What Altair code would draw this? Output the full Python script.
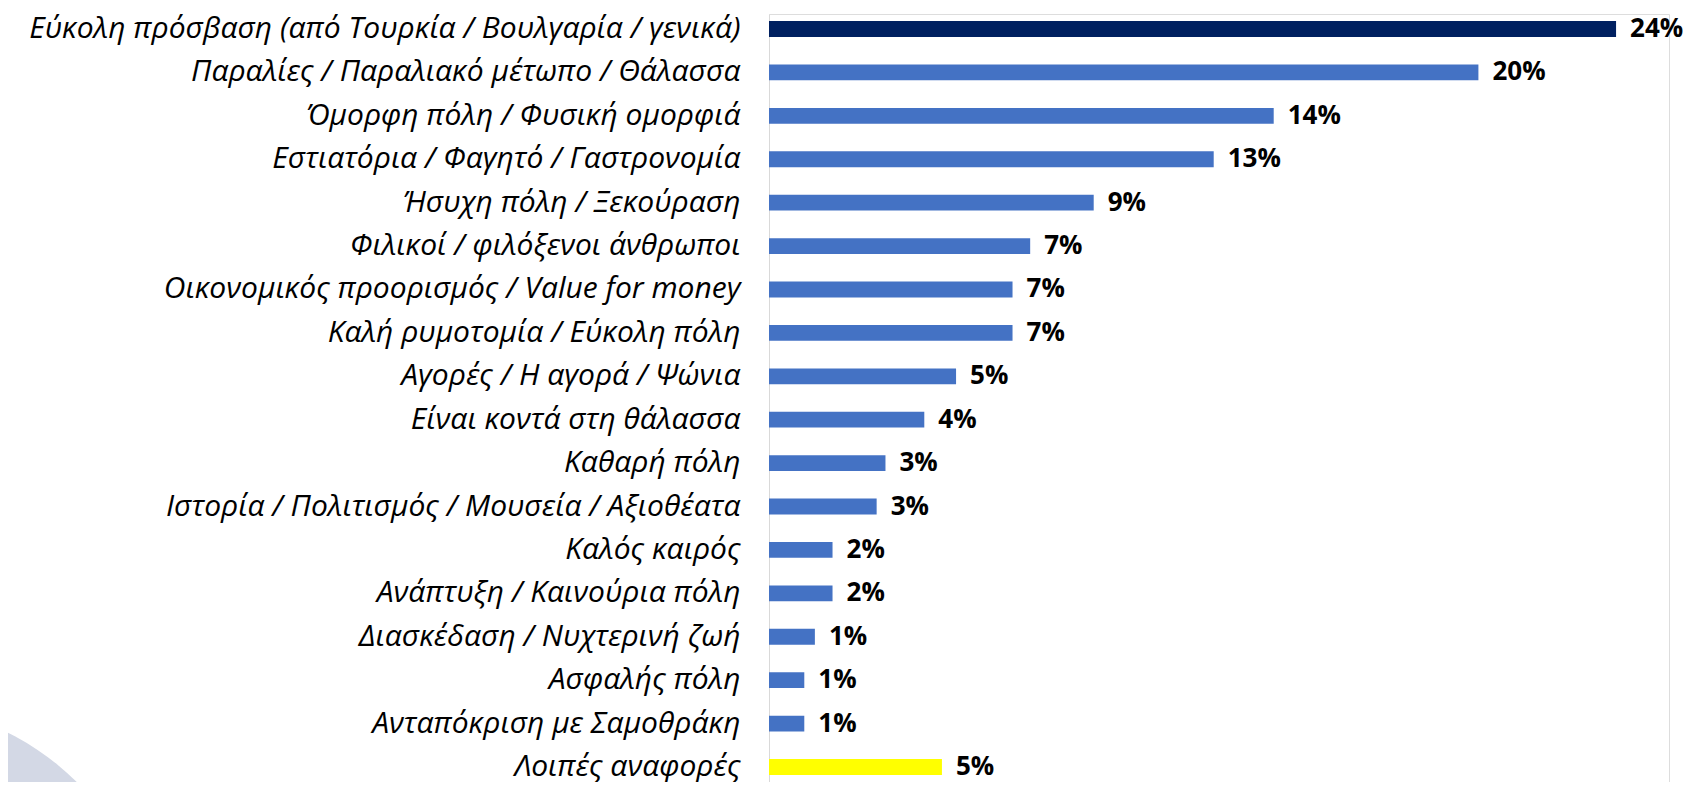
import altair as alt
import pandas as pd

categories = [
    "Εύκολη πρόσβαση (από Τουρκία / Βουλγαρία / γενικά)",
    "Παραλίες / Παραλιακό μέτωπο / Θάλασσα",
    "Όμορφη πόλη / Φυσική ομορφιά",
    "Εστιατόρια / Φαγητό / Γαστρονομία",
    "Ήσυχη  πόλη / Ξεκούραση",
    "Φιλικοί / φιλόξενοι άνθρωποι",
    "Οικονομικός προορισμός / Value for money",
    "Καλή ρυμοτομία / Εύκολη πόλη",
    "Αγορές / Η αγορά / Ψώνια",
    "Είναι κοντά στη θάλασσα",
    "Καθαρή πόλη",
    "Ιστορία / Πολιτισμός / Μουσεία / Αξιοθέατα",
    "Καλός καιρός",
    "Ανάπτυξη / Καινούρια πόλη",
    "Διασκέδαση / Νυχτερινή ζωή",
    "Ασφαλής πόλη",
    "Ανταπόκριση με Σαμοθράκη",
    "Λοιπές αναφορές",
]
values = [24.0, 20.1, 14.3, 12.6, 9.2, 7.4, 6.9, 6.9, 5.3, 4.4, 3.3, 3.05,
          1.8, 1.8, 1.3, 1.0, 1.0, 4.9]
colors = ["#002060"] + ["#4472C4"] * 16 + ["#FFFF00"]

df = pd.DataFrame({
    "cat": categories,
    "val": values,
    "color": colors,
    "label": [f"{int(v + 0.5)}%" for v in values],
})

y_enc = alt.Y(
    "cat:N", sort=categories, title=None,
    scale=alt.Scale(paddingInner=0.636, paddingOuter=0.164),
    axis=alt.Axis(labelFont="Open Sans", labelFontStyle="italic", labelFontSize=30,
                  labelColor="#000000", labelPadding=29, labelLimit=0,
                  ticks=False, domainColor="#d9d9d9", domainWidth=1),
)
x_enc = alt.X("val:Q", title=None, scale=alt.Scale(domain=[0, 25.5], nice=False),
              axis=None)

circle = alt.Chart(pd.DataFrame({"d": [0]})).mark_point(
    shape="circle", filled=True, color="#d3d8e5", opacity=1, size=280900
).encode(x=alt.value(-879), y=alt.value(956))

bars = alt.Chart(df).mark_bar().encode(
    y=y_enc, x=x_enc, color=alt.Color("color:N", scale=None)
)
text = alt.Chart(df).mark_text(
    align="left", baseline="middle", dx=14, font="Open Sans", fontWeight="bold",
    fontSize=26, color="#000000"
).encode(y=alt.Y("cat:N", sort=categories), x="val:Q", text="label:N")

chart = alt.layer(circle, bars, text).properties(
    width=900, height=768,
    autosize=alt.AutoSizeParams(type="none"),
    padding={"left": 761, "top": 6, "right": 16, "bottom": 0},
).configure_view(stroke=None).configure(background="white")

chart.save("out.html", embed_options={"renderer": "svg", "actions": False})
